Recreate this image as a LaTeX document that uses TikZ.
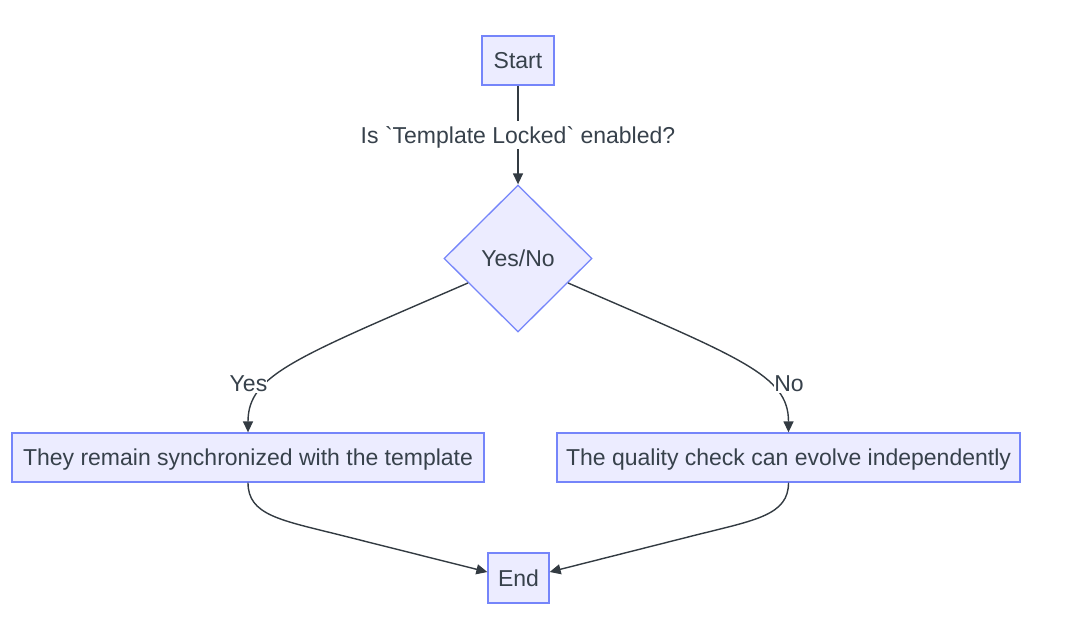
\documentclass[tikz,border=0pt]{standalone}
\usepackage{fontspec}
\setmainfont{Liberation Sans}
\usetikzlibrary{shapes.geometric,arrows.meta,calc}
\definecolor{boxfill}{HTML}{ECECFF}
\definecolor{boxline}{HTML}{7585FA}
\definecolor{txt}{HTML}{37414B}
\definecolor{edge}{HTML}{333B42}
\tikzset{
  txtfont/.style={text=txt, font=\fontsize{23}{27}\selectfont, text height=16.5pt, text depth=0pt},
  flowbox/.style={draw=boxline, fill=boxfill, line width=1.3pt, inner sep=0pt, txtfont},
  decision/.style={diamond, aspect=1, draw=boxline, fill=boxfill, line width=1.3pt, inner sep=0pt, txtfont},
  edgelabel/.style={fill=white, inner xsep=1pt, inner ysep=6pt, txtfont},
  smalllabel/.style={fill=white, inner xsep=0pt, inner ysep=2pt, txtfont},
  conn/.style={draw=edge, line width=1.4pt, -{Triangle[length=11pt,width=10pt]}},
}
\begin{document}
\begin{tikzpicture}[x=1pt,y=-1pt]
\useasboundingbox (0,0) rectangle (1070,626);
\node[flowbox, minimum width=72pt, minimum height=49pt] (s) at (518,60.5) {Start};
\node[decision, minimum width=148pt, minimum height=147pt] (d) at (518,258.5) {Yes/No};
\node[flowbox, minimum width=472pt, minimum height=49pt] (l) at (248,457.5) {They remain synchronized with the template};
\node[flowbox, minimum width=463pt, minimum height=49pt] (r) at (788.5,457.5) {The quality check can evolve independently};
\node[flowbox, minimum width=61pt, minimum height=50pt] (e) at (518.5,578) {End};

\draw[conn] (s.south) -- node[edgelabel] (q) {Is \textasciigrave Template Locked\textasciigrave{} enabled?} (d.north);
\draw[conn] ($(d.west)!0.33!(d.south)$) .. controls (295,358) and (248,375) .. (l.north);
\draw[conn] ($(d.east)!0.33!(d.south)$) .. controls (741,358) and (788.5,375) .. (r.north);
\draw[conn] (l.south) .. controls (248,515) and (280,520) .. (340,535) -- ($(e.west)+(0,-6)$);
\draw[conn] (r.south) .. controls (788.5,515) and (756,520) .. (696,535) -- ($(e.east)+(0,-6)$);

\node[smalllabel] (yes) at (248.5,383) {Yes};
\node[smalllabel] (no) at (789,383) {No};
\end{tikzpicture}
\end{document}
